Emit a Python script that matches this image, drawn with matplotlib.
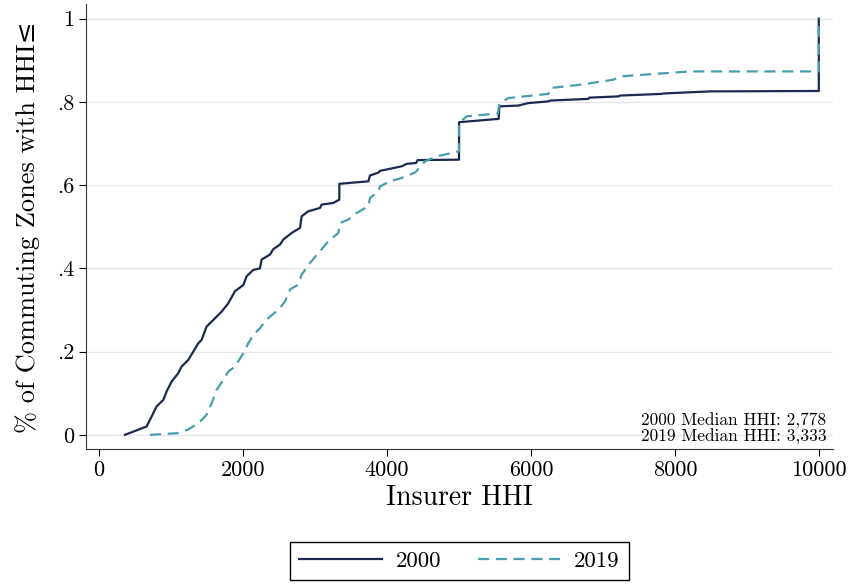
import matplotlib
matplotlib.use("Agg")
import matplotlib.pyplot as plt

plt.rcParams['font.family'] = ['cmr10', 'DejaVu Serif']
plt.rcParams['axes.formatter.use_mathtext'] = True

# ECDF of insurer HHI by commuting zone
hhi_2000 = [361, 662, 801, 894, 940, 1009, 1102, 1148, 1241, 1380, 1426, 1495, 1588,
            1704, 1796, 1889, 2005, 2051, 2143, 2236, 2259, 2375, 2421, 2514, 2560,
            2676, 2792, 2815, 2907, 3069, 3092, 3254, 3338, 3338, 3741, 3764, 3880,
            3900, 4203, 4273, 4403, 4426, 5000, 5000, 5550, 5560, 5824, 5963, 6241,
            6264, 6796, 6810, 7213, 7236, 7815, 7838, 8486, 9995, 9995]
cdf_2000 = [0.0, 0.02, 0.068, 0.084, 0.104, 0.128, 0.148, 0.164, 0.180, 0.22, 0.228,
            0.26, 0.276, 0.296, 0.316, 0.345, 0.36, 0.381, 0.396, 0.40, 0.421, 0.433,
            0.446, 0.457, 0.469, 0.485, 0.497, 0.525, 0.537, 0.545, 0.553, 0.557,
            0.565, 0.603, 0.609, 0.623, 0.630, 0.634, 0.645, 0.651, 0.653, 0.660,
            0.661, 0.751, 0.759, 0.789, 0.791, 0.797, 0.801, 0.803, 0.807, 0.810,
            0.813, 0.815, 0.819, 0.820, 0.825, 0.826, 1.0]

hhi_2019 = [708, 1102, 1241, 1380, 1495, 1565, 1634, 1727, 1796, 1889, 2005, 2074,
            2143, 2236, 2306, 2375, 2490, 2583, 2653, 2768, 2815, 2931, 3069, 3185,
            3324, 3347, 3463, 3579, 3741, 3764, 3880, 3903, 4042, 4203, 4389, 4528,
            4690, 5000, 5000, 5106, 5540, 5560, 5685, 6241, 6264, 6681, 7144, 7236,
            8209, 9995, 9995]
cdf_2019 = [0.0, 0.004, 0.013, 0.028, 0.048, 0.076, 0.108, 0.132, 0.152, 0.164,
            0.196, 0.22, 0.240, 0.256, 0.272, 0.284, 0.30, 0.32, 0.349, 0.361, 0.385,
            0.413, 0.441, 0.465, 0.485, 0.509, 0.517, 0.533, 0.549, 0.569, 0.585,
            0.597, 0.609, 0.617, 0.63, 0.657, 0.669, 0.681, 0.749, 0.765, 0.772,
            0.796, 0.809, 0.819, 0.833, 0.841, 0.853, 0.861, 0.873, 0.873, 1.0]

yticks = [0, 0.2, 0.4, 0.6, 0.8, 1.0]
ytick_labels = ['0', '.2', '.4', '.6', '.8', '1']
xticks = [0, 2000, 4000, 6000, 8000, 10000]

fig = plt.figure(figsize=(8.51, 5.85), dpi=100)
ax = fig.add_axes([0.101, 0.2325, 0.878, 0.76])

ax.plot(hhi_2000, cdf_2000, color='#1c2a50', lw=1.6, label='2000')
ax.plot(hhi_2019, cdf_2019, color='#4a9dac', lw=1.6, dashes=(5, 3), label='2019')

ax.set_xlim(-180, 10194)
ax.set_ylim(-0.034, 1.034)
ax.set_xticks(xticks)
ax.set_xticklabels([str(x) for x in xticks])
ax.set_yticks(yticks)
ax.set_yticklabels(ytick_labels)
ax.tick_params(labelsize=16, length=5, width=0.8, direction='out')
ax.grid(axis='y', color='#e6e6e6', lw=1)
ax.set_axisbelow(True)
for s in ['top', 'right']:
    ax.spines[s].set_visible(False)
ax.spines['left'].set_color('#333333')
ax.spines['bottom'].set_color('#333333')

ax.set_xlabel('Insurer HHI', fontsize=20, labelpad=3)
ax.set_ylabel('% of Commuting Zones with HHI≤', fontsize=19, labelpad=12)

ax.text(10097, -0.024, '2000 Median HHI: 2,778\n2019 Median HHI: 3,333',
        ha='right', va='bottom', fontsize=12.5, linespacing=0.95)

leg = ax.legend(loc='upper center', bbox_to_anchor=(0.5, -0.183), ncol=2,
                fontsize=16.5, handlelength=3.6, handletextpad=0.6,
                columnspacing=1.6, fancybox=False, edgecolor='black',
                framealpha=1, borderpad=0.4)
leg.get_frame().set_linewidth(1.0)

fig.savefig('out.png', dpi=100)
